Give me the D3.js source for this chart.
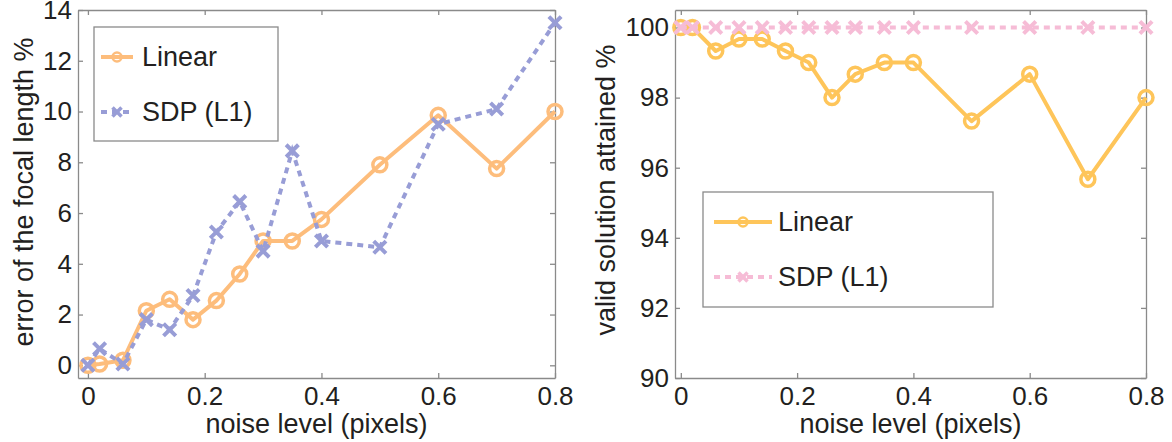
<!DOCTYPE html>
<html>
<head>
<meta charset="utf-8">
<script src="https://cdn.jsdelivr.net/npm/d3@7"></script>
<style>
  body { margin: 0; background: #fff; }
  svg { display: block; font-family: "Liberation Sans", Arial, sans-serif; }
</style>
</head>
<body>
<div id="chart"></div>
<script>
// noise levels shared by both panels
const noise = [0, 0.02, 0.06, 0.1, 0.14, 0.18, 0.22, 0.26, 0.3, 0.35, 0.4, 0.5, 0.6, 0.7, 0.8];
const xTicks = [0, 0.2, 0.4, 0.6, 0.8];

// left panel: error of the focal length %
const errLinear = [0, 0.05, 0.2, 2.15, 2.6, 1.8, 2.55, 3.6, 4.9, 4.9, 5.75, 7.9, 9.85, 7.75, 10.0];
const errSDP = [0, 0.65, 0.05, 1.8, 1.4, 2.75, 5.25, 6.45, 4.5, 8.45, 4.9, 4.65, 9.5, 10.1, 13.5];
const errTicks = [0, 2, 4, 6, 8, 10, 12, 14];

// right panel: valid solution attained %
const validLinear = [100, 100, 99.33, 99.67, 99.67, 99.33, 99, 98, 98.67, 99, 99, 97.33, 98.67, 95.67, 98];
const validSDP = [100, 100, 100, 100, 100, 100, 100, 100, 100, 100, 100, 100, 100, 100, 100];
const validTicks = [90, 92, 94, 96, 98, 100];

const width = 1172, height = 442;
const axisColor = "#8a8a8a";
const textColor = "#231f20";

const svg = d3.select("#chart").append("svg")
  .attr("width", width)
  .attr("height", height);

function drawPanel(cfg) {
  const x = d3.scaleLinear().domain(cfg.xDomain).range([cfg.left, cfg.right]);
  const y = d3.scaleLinear().domain(cfg.yDomain).range([cfg.bottom, cfg.top]);
  const g = svg.append("g");

  // axes: ticks point inward, box on all sides
  g.append("g")
    .attr("transform", `translate(0,${cfg.bottom})`)
    .call(d3.axisBottom(x).tickValues(xTicks).tickFormat(d3.format("~g"))
      .tickSizeInner(-5).tickSizeOuter(0).tickPadding(9));
  g.append("g")
    .attr("transform", `translate(${cfg.left},0)`)
    .call(d3.axisLeft(y).tickValues(cfg.yTicks).tickFormat(d3.format("d"))
      .tickSizeInner(-5).tickSizeOuter(0).tickPadding(6));
  g.append("g")
    .attr("transform", `translate(0,${cfg.top})`)
    .call(d3.axisTop(x).tickValues(xTicks).tickFormat("").tickSizeInner(-5).tickSizeOuter(0));
  g.append("g")
    .attr("transform", `translate(${cfg.right},0)`)
    .call(d3.axisRight(y).tickValues(cfg.yTicks).tickFormat("").tickSizeInner(-5).tickSizeOuter(0));

  g.selectAll(".domain, .tick line").attr("stroke", axisColor).attr("stroke-width", 1.3);
  g.selectAll(".tick text").attr("fill", textColor).style("font-size", "26px");

  // axis titles
  g.append("text")
    .attr("x", (cfg.left + cfg.right) / 2)
    .attr("y", 433)
    .attr("text-anchor", "middle")
    .attr("fill", textColor)
    .style("font-size", "27px")
    .text("noise level (pixels)");
  g.append("text")
    .attr("transform", `translate(${cfg.yLabelX},${cfg.yLabelY}) rotate(-90)`)
    .attr("text-anchor", "middle")
    .attr("fill", textColor)
    .style("font-size", "27px")
    .text(cfg.yLabel);

  const line = d3.line().x((d) => x(d[0])).y((d) => y(d[1]));

  // Linear series: solid line with hollow circles
  const linPts = noise.map((n, i) => [n, cfg.linear[i]]);
  g.append("path")
    .datum(linPts)
    .attr("d", line)
    .attr("fill", "none")
    .attr("stroke", cfg.linColor)
    .attr("stroke-width", 4)
    .attr("stroke-linejoin", "round");
  g.selectAll(".lin-marker")
    .data(linPts)
    .join("circle")
    .attr("class", "lin-marker")
    .attr("cx", (d) => x(d[0]))
    .attr("cy", (d) => y(d[1]))
    .attr("r", 7)
    .attr("fill", "none")
    .attr("stroke", cfg.linColor)
    .attr("stroke-width", 3.5);

  // SDP series: dashed line with x markers
  const sdpPts = noise.map((n, i) => [n, cfg.sdp[i]]);
  g.append("path")
    .datum(sdpPts)
    .attr("d", line)
    .attr("fill", "none")
    .attr("stroke", cfg.sdpColor)
    .attr("stroke-width", 4)
    .attr("stroke-dasharray", cfg.dash);
  const cross = d3.symbol().type(d3.symbolX).size(100);
  g.selectAll(".sdp-marker")
    .data(sdpPts)
    .join("path")
    .attr("class", "sdp-marker")
    .attr("transform", (d) => `translate(${x(d[0])},${y(d[1])})`)
    .attr("d", cross)
    .attr("fill", "none")
    .attr("stroke", cfg.sdpColor)
    .attr("stroke-width", 4);

  // legend
  const lg = cfg.legend;
  g.append("rect")
    .attr("x", lg.x0).attr("y", lg.y0)
    .attr("width", lg.x1 - lg.x0).attr("height", lg.y1 - lg.y0)
    .attr("fill", "#fff")
    .attr("stroke", axisColor)
    .attr("stroke-width", 1.3);

  const entries = [
    { name: "Linear", color: cfg.linColor, dash: null, marker: "circle", y: lg.rows[0] },
    { name: "SDP (L1)", color: cfg.sdpColor, dash: cfg.dash, marker: "x", y: lg.rows[1] }
  ];
  const mid = (lg.lineX0 + lg.lineX1) / 2;
  entries.forEach((e) => {
    g.append("line")
      .attr("x1", lg.lineX0).attr("x2", lg.lineX1)
      .attr("y1", e.y).attr("y2", e.y)
      .attr("stroke", e.color)
      .attr("stroke-width", 4)
      .attr("stroke-dasharray", e.dash);
    if (e.marker === "circle") {
      g.append("circle")
        .attr("cx", mid).attr("cy", e.y).attr("r", 4.5)
        .attr("fill", "none").attr("stroke", e.color).attr("stroke-width", 2.5);
    } else {
      g.append("path")
        .attr("transform", `translate(${mid},${e.y})`)
        .attr("d", d3.symbol().type(d3.symbolX).size(55))
        .attr("fill", "none").attr("stroke", e.color).attr("stroke-width", 3.5);
    }
    g.append("text")
      .attr("x", lg.textX).attr("y", e.y)
      .attr("dy", "0.35em")
      .attr("fill", textColor)
      .style("font-size", "27px")
      .text(e.name);
  });
}

drawPanel({
  left: 78, right: 555, top: 10, bottom: 378,
  xDomain: [-0.017, 0.8], yDomain: [-0.5, 14], yTicks: errTicks,
  linear: errLinear, sdp: errSDP,
  linColor: "#fdbd7c", sdpColor: "#989dd6", dash: "6,5",
  yLabel: "error of the focal length %", yLabelX: 33, yLabelY: 192,
  legend: { x0: 94, y0: 27, x1: 278, y1: 141, lineX0: 101, lineX1: 133, textX: 142, rows: [57, 112] }
});

drawPanel({
  left: 675, right: 1146, top: 10, bottom: 378,
  xDomain: [-0.01, 0.8], yDomain: [90, 100.5], yTicks: validTicks,
  linear: validLinear, sdp: validSDP,
  linColor: "#fec55a", sdpColor: "#f6bcd6", dash: "6,5",
  yLabel: "valid solution attained %", yLabelX: 615, yLabelY: 190,
  legend: { x0: 703, y0: 192, x1: 993, y1: 307, lineX0: 714, lineX1: 772, textX: 778, rows: [222, 277] }
});
</script>
</body>
</html>
